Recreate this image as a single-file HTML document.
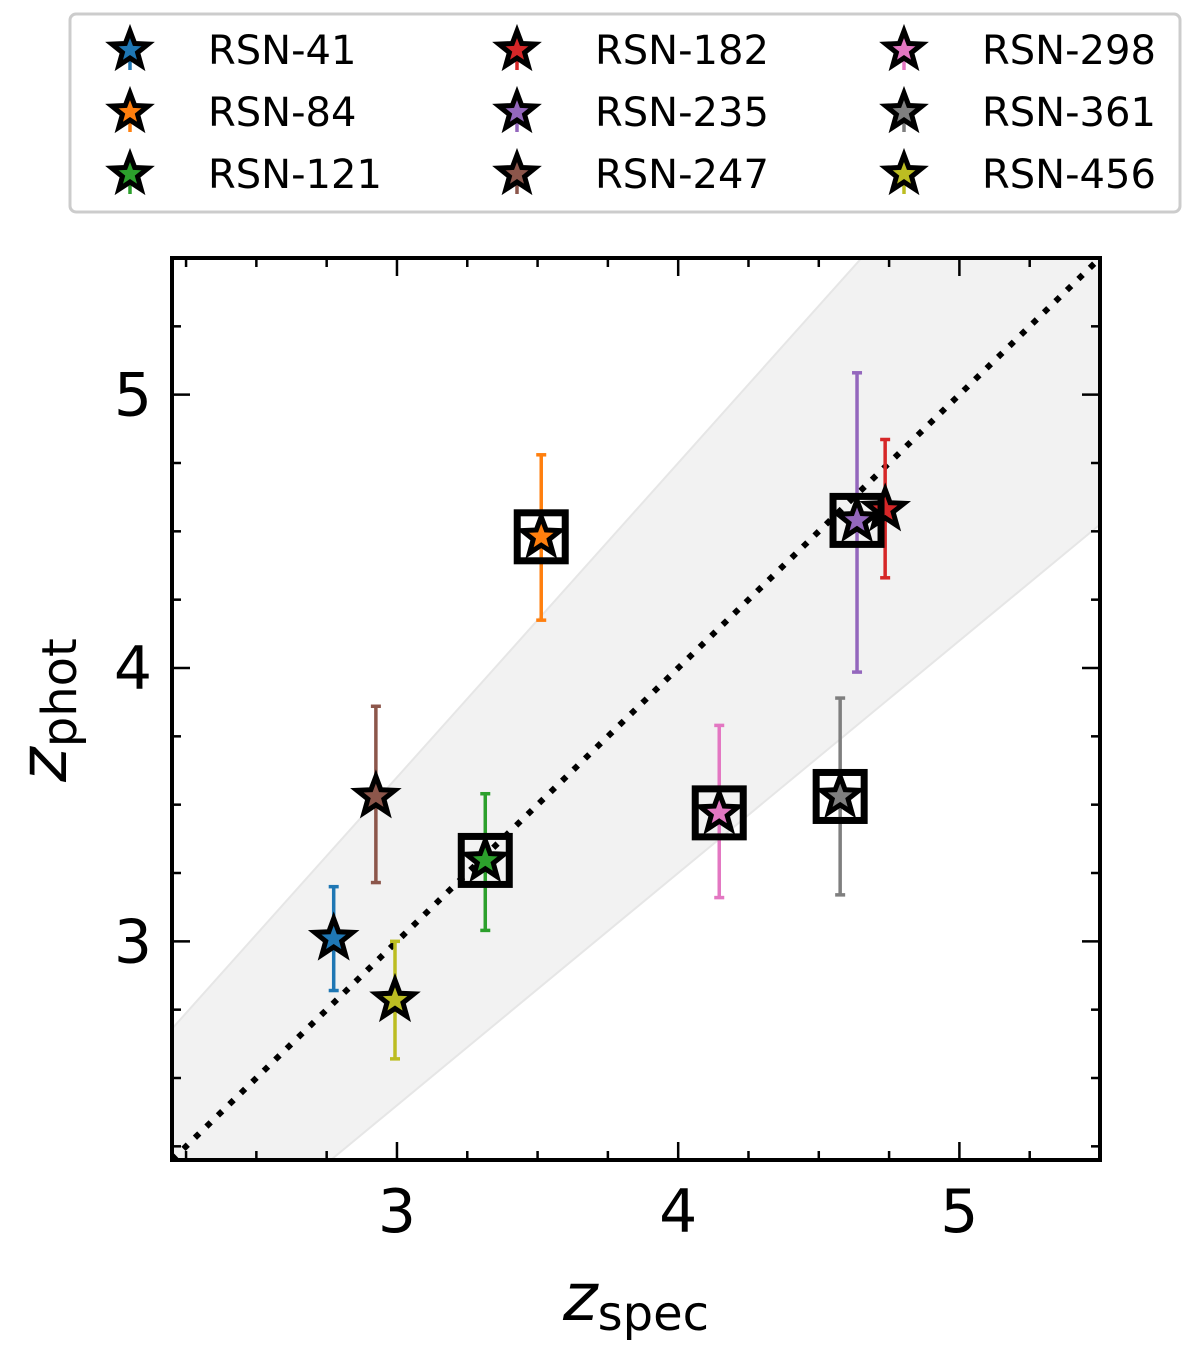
<!DOCTYPE html>
<html><head><meta charset="utf-8"><style>
html,body{margin:0;padding:0;background:#fff;}
svg{display:block;font-family:"DejaVu Sans","Liberation Sans",sans-serif;}
</style></head><body>
<svg id="chart" width="1200" height="1346" viewBox="0 0 1200 1346"></svg>
<script>
const names=["RSN-41","RSN-84","RSN-121","RSN-182","RSN-235","RSN-247","RSN-298","RSN-361","RSN-456"];
const colors=["#1f77b4","#ff7f0e","#2ca02c","#d62728","#9467bd","#8c564b","#e377c2","#7f7f7f","#bcbd22"];
const zspec=[2.775,3.513,3.314,4.736,4.636,2.925,4.146,4.576,2.993];
const zphot=[3.01,4.48,3.296,4.58,4.54,3.53,3.47,3.53,2.785];
const errLo=[2.82,4.175,3.04,4.33,3.985,3.215,3.16,3.17,2.57];
const errHi=[3.20,4.78,3.54,4.836,5.08,3.86,3.79,3.89,3.00];
const boxed=[false,true,true,false,true,false,true,true,false];
const xTicks=[3,4,5];
const yTicks=[3,4,5];
const NS="http://www.w3.org/2000/svg";
const svg=document.getElementById('chart');
const L=172,R=1100,T=258,B=1160,MIN=2.2,MAX=5.5;
const X=v=>L+(v-MIN)/(MAX-MIN)*(R-L);
const Y=v=>B-(v-MIN)/(MAX-MIN)*(B-T);
function mk(tag,attrs,parent){const e=document.createElementNS(NS,tag);for(const k in attrs)e.setAttribute(k,attrs[k]);(parent||svg).appendChild(e);return e;}
function star(cx,cy,r){let p=[];for(let i=0;i<10;i++){const a=-Math.PI/2+i*Math.PI/5;const rr=i%2?r*0.42:r;p.push((cx+rr*Math.cos(a)).toFixed(1)+","+(cy+rr*Math.sin(a)).toFixed(1));}return p.join(" ");}
const defs=mk('defs',{});const cp=mk('clipPath',{id:'pc'},defs);mk('rect',{x:L,y:T,width:R-L,height:B-T},cp);
const g=mk('g',{'clip-path':'url(#pc)'});

const band=mk('polygon',{points:[[MIN,MIN*1.15+0.15],[MAX,MAX*1.15+0.15],[MAX,MAX*0.85-0.15],[MIN,MIN*0.85-0.15]].map(p=>X(p[0])+","+Y(p[1])).join(" "),fill:'#f2f2f2',stroke:'#e6e6e6','stroke-width':2},g);

const one=mk('line',{x1:X(MIN),y1:Y(MIN),x2:X(MAX),y2:Y(MAX),stroke:'#000','stroke-width':6,'stroke-dasharray':'6 10'},g);

for(let i=0;i<names.length;i++){
  const pg=mk('g',{},g);
  
  const x=X(zspec[i]),y=Y(zphot[i]);
  mk('line',{x1:x,x2:x,y1:Y(errLo[i]),y2:Y(errHi[i]),stroke:colors[i],'stroke-width':3.5},pg);
  mk('line',{x1:x-5,x2:x+5,y1:Y(errLo[i]),y2:Y(errLo[i]),stroke:colors[i],'stroke-width':3.5},pg);
  mk('line',{x1:x-5,x2:x+5,y1:Y(errHi[i]),y2:Y(errHi[i]),stroke:colors[i],'stroke-width':3.5},pg);
  if(boxed[i])mk('rect',{x:x-24,y:y-24,width:48,height:48,fill:'none',stroke:'#000','stroke-width':7},pg);
  mk('polygon',{points:star(x,y,20),fill:colors[i],stroke:'#000','stroke-width':5,'stroke-linejoin':'miter'},pg);
}
const fr=mk('rect',{x:L,y:T,width:R-L,height:B-T,fill:'none',stroke:'#000','stroke-width':4});

for(let v=2.25;v<=5.5;v+=0.25){
  const major=Math.abs(v-Math.round(v))<1e-6;const len=major?18:9;
  const xx=X(v),yy=Y(v);
  mk('line',{x1:xx,x2:xx,y1:B,y2:B-len,stroke:'#000','stroke-width':2.5});
  mk('line',{x1:xx,x2:xx,y1:T,y2:T+len,stroke:'#000','stroke-width':2.5});
  mk('line',{y1:yy,y2:yy,x1:L,x2:L+len,stroke:'#000','stroke-width':2.5});
  mk('line',{y1:yy,y2:yy,x1:R,x2:R-len,stroke:'#000','stroke-width':2.5});
}
xTicks.forEach(v=>{const t=mk('text',{x:X(v),y:1232,'font-size':60,'text-anchor':'middle'});t.textContent=v;
});
yTicks.forEach(v=>{const t=mk('text',{x:152,y:Y(v)+21,'font-size':60,'text-anchor':'end'});t.textContent=v;
});
const xt=mk('text',{x:636,y:1320,'font-size':66,'text-anchor':'middle','font-style':'italic'});
xt.innerHTML='z<tspan font-style="normal" font-size="48" dy="10">spec</tspan>';

const yt=mk('text',{x:0,y:0,'font-size':66,'text-anchor':'middle','font-style':'italic',transform:'translate(66,710) rotate(-90)'});
yt.innerHTML='z<tspan font-style="normal" font-size="48" dy="10">phot</tspan>';

const lg=mk('g',{});
mk('rect',{x:70,y:14,width:1110,height:198,rx:6,fill:'#fff',stroke:'#cccccc','stroke-width':3},lg);
for(let i=0;i<names.length;i++){
  const c=Math.floor(i/3),r=i%3;
  const mx=130+c*387,my=50+r*62;
  const e=mk('g',{},lg);
  
  mk('line',{x1:mx,x2:mx,y1:my-20,y2:my+20,stroke:colors[i],'stroke-width':3.5},e);
  mk('polygon',{points:star(mx,my,19),fill:colors[i],stroke:'#000','stroke-width':5},e);
  const t=mk('text',{x:mx+78,y:my+14,'font-size':40},e);t.textContent=names[i];
}
</script>
</body></html>
